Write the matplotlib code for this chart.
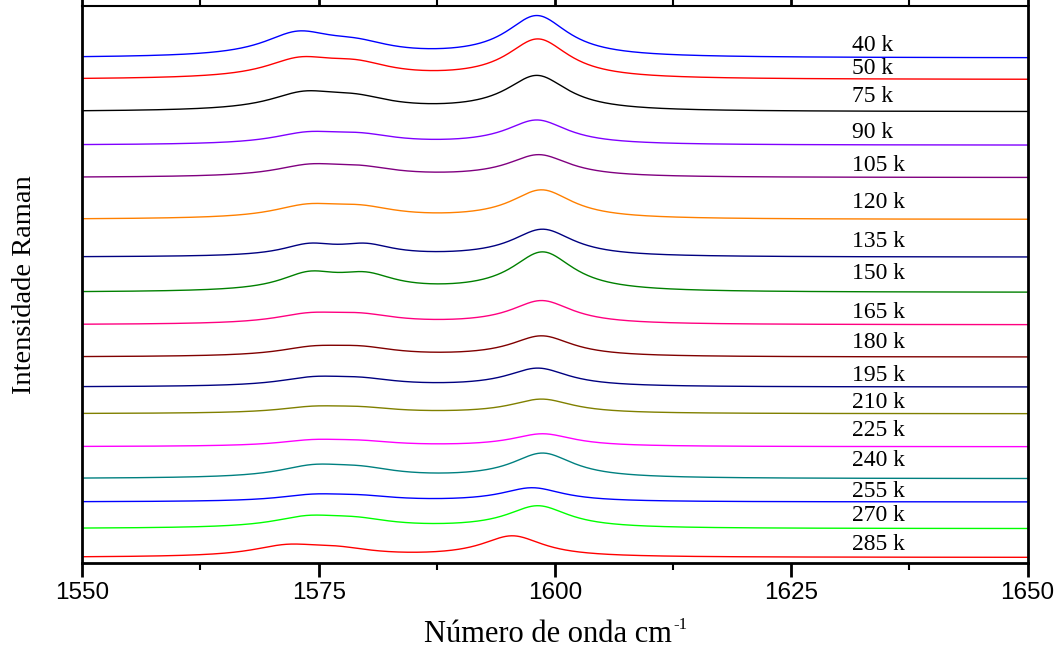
import numpy as np
import matplotlib.pyplot as plt
from matplotlib.ticker import MultipleLocator

# temperature series, top to bottom
temps = ["40 k", "50 k", "75 k", "90 k", "105 k", "120 k", "135 k", "150 k", "165 k",
         "180 k", "195 k", "210 k", "225 k", "240 k", "255 k", "270 k", "285 k"]
colors = ["#0000ff", "#ff0000", "#000000", "#8000ff", "#800080", "#ff8000", "#000080",
          "#008000", "#ff0080", "#800000", "#000080", "#808000", "#ff00ff", "#008080",
          "#0000ff", "#00ff00", "#ff0000"]

# vertical offset of each spectrum (stacking)
offset = [507.0, 485.4, 453.2, 419.7, 387.3, 345.4, 307.7, 272.4, 240.0,
          207.7, 177.7, 151.0, 118.0, 86.0, 62.7, 36.0, 7.2]

# band positions (cm-1)
pos_a = [1572.8, 1573.0, 1573.4, 1573.8, 1574.0, 1573.8, 1574.0, 1574.0, 1574.0,
         1574.4, 1574.4, 1574.4, 1574.4, 1574.4, 1574.4, 1573.8, 1571.6]
pos_b = [1579.0, 1579.0, 1579.0, 1579.5, 1579.5, 1579.5, 1580.0, 1580.0, 1579.5,
         1579.5, 1579.5, 1579.5, 1579.5, 1579.5, 1579.5, 1579.0, 1577.0]
pos_c = [1598.1, 1598.2, 1598.1, 1598.1, 1598.3, 1598.6, 1598.7, 1598.7, 1598.6,
         1598.6, 1598.2, 1598.6, 1598.7, 1598.7, 1597.6, 1598.2, 1595.5]

# measured intensity at each band position (above the offset)
h_a = [27.0, 22.7, 20.7, 13.6, 13.7, 15.7, 14.0, 21.3, 12.3,
       11.3, 10.6, 7.7, 7.3, 14.3, 8.0, 13.3, 13.2]
h_b = [20.0, 20.0, 18.0, 12.6, 12.4, 14.7, 14.0, 20.6, 12.0,
       11.3, 10.0, 7.3, 6.7, 13.0, 7.3, 12.0, 11.5]
h_c = [42.5, 40.7, 36.4, 25.3, 23.0, 29.7, 28.0, 40.6, 24.3,
       21.3, 19.0, 14.7, 13.0, 25.7, 14.3, 23.0, 21.7]

# half widths (cm-1) of the lower bands and of the 1598 band
hw_ab = [4.5, 4.5, 4.5, 4.5, 4.5, 4.5, 3.5, 3.8, 4.5,
         4.5, 4.5, 4.5, 4.5, 4.5, 4.5, 4.5, 4.5]
hw_c = 4.0

label_y = [520, 496, 468, 432, 399, 362.3, 323.3, 291, 252.3,
           222.3, 189, 162.3, 134.3, 104.3, 73.3, 49, 20]


def lorentz(x, c, w):
    return 1.0 / (1.0 + ((x - c) / w) ** 2)


wn = np.linspace(1550, 1650, 1001)

fig = plt.figure(figsize=(10.64, 6.55), dpi=100)
ax = fig.add_axes([0.0774, 0.1405, 0.8883, 0.8503])

for i in range(len(temps)):
    cen = [pos_a[i], pos_b[i], pos_c[i]]
    wid = [hw_ab[i], hw_ab[i], hw_c]
    # amplitudes so that the summed bands reach the measured heights
    M = np.array([[lorentz(cen[j], cen[k], wid[k]) for k in range(3)] for j in range(3)])
    amps = np.linalg.solve(M, [h_a[i], h_b[i], h_c[i]])
    y = offset[i] + sum(amps[k] * lorentz(wn, cen[k], wid[k]) for k in range(3))
    ax.plot(wn, y, color=colors[i], lw=1.0)
    ax.text(1631.4, label_y[i], temps[i], fontsize=17, family='Liberation Serif',
            ha='left', va='center')

ax.set_xlim(1550, 1650)
ax.set_ylim(1.7, 559)
ax.set_yticks([])
ax.xaxis.set_major_locator(MultipleLocator(25))
ax.xaxis.set_minor_locator(MultipleLocator(12.5))
ax.tick_params(axis='x', which='major', direction='out', length=10, width=2, pad=4,
               labelsize=17.5)
ax.tick_params(axis='x', which='minor', direction='out', length=5, width=1.5)
ax.tick_params(axis='x', which='both', top=True)
for lab in ax.get_xticklabels():
    lab.set_family('Liberation Sans')
for sp in ax.spines.values():
    sp.set_linewidth(2)
ax.spines['top'].set_linewidth(1.5)

xl = ax.set_xlabel("Número de onda cm", fontsize=22, family='Liberation Serif', labelpad=11.5)
xl.set_x(0.4925)
ax.set_ylabel("Intensidade Raman", fontsize=20.5, family='Liberation Serif', labelpad=33)

# small raised "-1" after the x label
fig.canvas.draw()
bb = xl.get_window_extent()
fig.text((bb.x1 + 2) / fig.bbox.width, (bb.y0 + 20) / fig.bbox.height, "-1",
         fontsize=12, family='Liberation Serif', ha='left', va='baseline')

fig.savefig("out.png", dpi=100)
